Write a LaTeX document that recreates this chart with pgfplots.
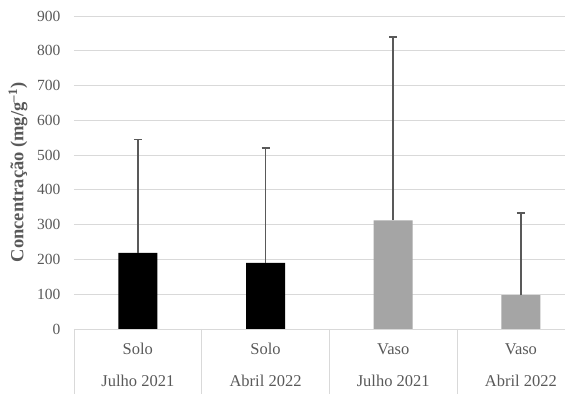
\documentclass[border=0pt]{standalone}
\usepackage{pgfplots}
\pgfplotsset{compat=1.18}
\usepackage{fontspec}
\setmainfont{Liberation Serif}
\definecolor{txtgray}{HTML}{595959}
\definecolor{gridgray}{HTML}{D9D9D9}
\definecolor{bargray}{HTML}{A5A5A5}
\definecolor{errgray}{HTML}{595959}
\begin{document}
\begin{tikzpicture}
\begin{axis}[
  scale only axis,
  width=491pt, height=313pt,
  ymin=0, ymax=900,
  xmin=-0.5, xmax=3.345,
  ytick={0,100,...,900},
  xtick={0,1,2,3},
  xticklabels={{Solo\\[13pt]Julho 2021},{Solo\\[13pt]Abril 2022},{Vaso\\[13pt]Julho 2021},{Vaso\\[13pt]Abril 2022}},
  x tick style={draw=none},
  y tick style={draw=none},
  major tick length=0pt,
  tick pos=left,
  axis line style={draw=none},
  ymajorgrids,
  grid style={draw=gridgray, line width=0.8pt},
  /pgf/number format/assume math mode=true,
  yticklabel style={font=\fontsize{15.5}{18}\selectfont, text=txtgray, xshift=-10pt},
  xticklabel style={font=\fontsize{16.5}{19}\selectfont, text=txtgray, align=center, yshift=-11pt},
  ylabel={\textbf{Concentração (mg/g\textsuperscript{–1})}},
  every axis y label/.style={at={(rel axis cs:0,0.5)}, rotate=90, anchor=center,
    yshift=56pt, font=\fontsize{18.5}{22}\selectfont, text=txtgray},
  clip=false,
]
% baseline and category separators
\draw[gridgray, line width=0.8pt] (axis cs:-0.5,0) -- (axis cs:3.345,0);
\draw[gridgray, line width=0.8pt] (axis cs:-0.5,0) -- ([yshift=-65pt]axis cs:-0.5,0);
\draw[gridgray, line width=0.8pt] (axis cs:0.5,0) -- ([yshift=-65pt]axis cs:0.5,0);
\draw[gridgray, line width=0.8pt] (axis cs:1.5,0) -- ([yshift=-65pt]axis cs:1.5,0);
\draw[gridgray, line width=0.8pt] (axis cs:2.5,0) -- ([yshift=-65pt]axis cs:2.5,0);
% Solo: black bars
\addplot[ybar, bar width=39pt, bar shift=0pt, fill=black, draw=none,
  error bars/.cd, y dir=plus, y explicit,
  error bar style={errgray, line width=1.5pt},
  error mark options={rotate=90, mark size=4pt, line width=1.5pt, errgray}]
  coordinates {(0,219) +- (0,326) (1,190) +- (0,331)};
% Vaso: gray bars
\addplot[ybar, bar width=39pt, bar shift=0pt, fill=bargray, draw=none,
  error bars/.cd, y dir=plus, y explicit,
  error bar style={errgray, line width=1.5pt},
  error mark options={rotate=90, mark size=4pt, line width=1.5pt, errgray}]
  coordinates {(2,312) +- (0,527) (3,97) +- (0,237)};
\end{axis}
\pgfresetboundingbox
\path[use as bounding box] ([xshift=-74pt,yshift=-65pt]current axis.south west) rectangle ([yshift=16pt]current axis.north east);
\end{tikzpicture}
\end{document}
